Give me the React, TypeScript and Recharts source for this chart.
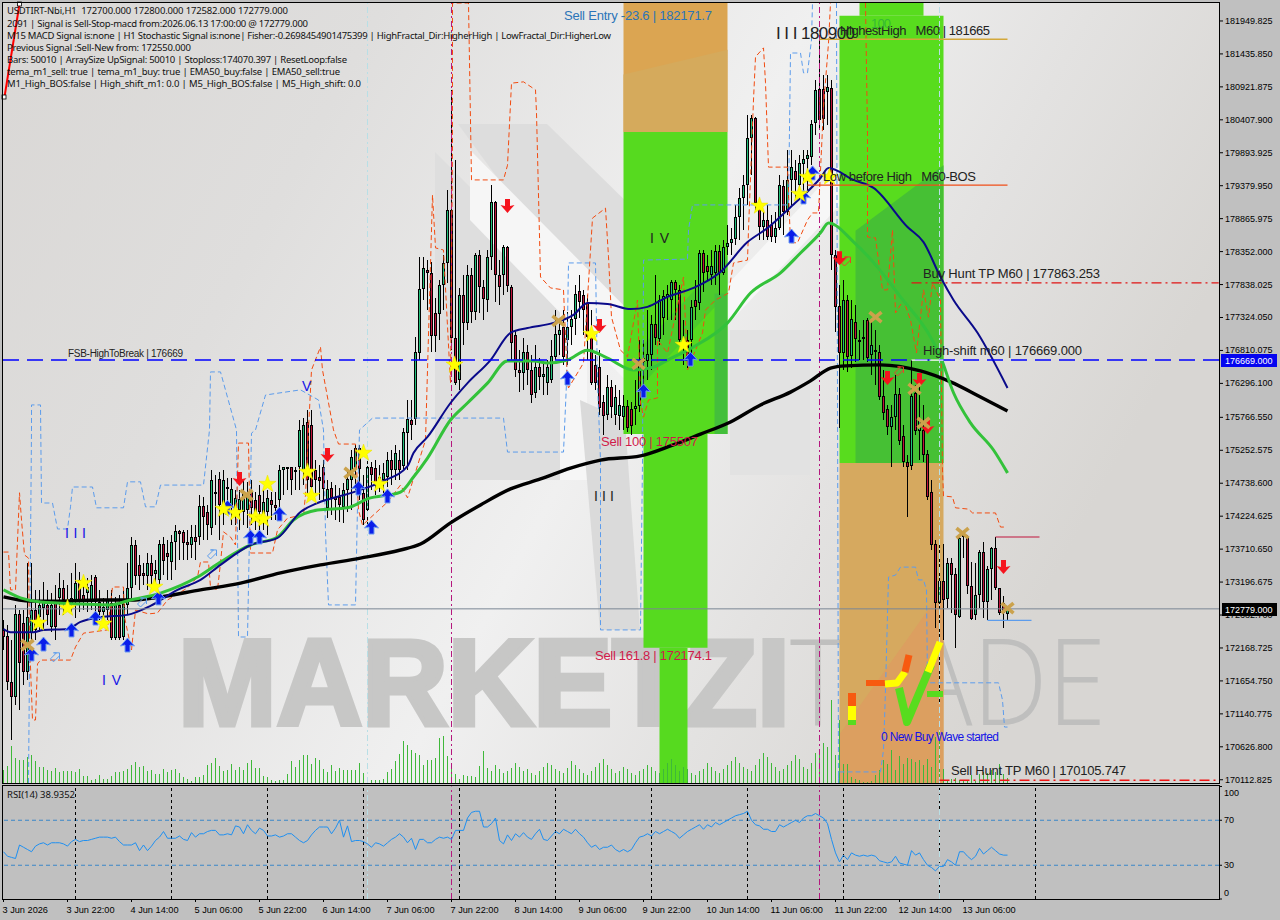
import React from "react";
import { ComposedChart, Bar, Line, XAxis, YAxis, ReferenceLine, ReferenceArea } from "recharts";

// ---------- data: [open, high, low, close] per H1 bar ----------
const ohlc: number[][] = [
[172450,172605,172137,172340],[172355,172530,171513,171640],[171640,172293,170733,171405],[171405,172840,171280,172700],[172700,172760,171200,171935],[172560,172760,171590,171795],[171795,173495,171670,172650],[172400,173495,172290,172760],[172760,173075,172290,172450],[172650,173075,172420,172840],
[172790,173200,172450,172885],[172840,173075,172530,172680],[172500,173025,172420,172840],[172870,173150,172290,172500],[172950,173340,172685,173105],[173105,173230,172685,172917],[172917,173150,172760,172870],[172840,173340,172730,172950],[172885,173495,172640,173180],[173230,173355,172730,172917],
[172995,173150,172760,172885],[173030,173260,172730,173120],[172917,173305,172760,173150],[173275,173305,172730,172885],[172885,173075,172605,172730],[172730,172950,172635,172810],[172760,173075,172605,172917],[172870,173075,172290,172325],[172325,172965,172290,172840],[172840,172995,172290,172325],
[172340,173075,172290,172855],[172840,173495,172685,173105],[173105,173900,172950,173775],[173775,173855,173150,173290],[173465,173620,173075,173290],[173340,173495,173150,173290],[173290,173650,173075,173495],[173495,173620,173075,173290],[173325,173540,173150,173385],[173230,173855,173150,173790],
[173790,173900,173305,173525],[173650,173855,173230,173590],[173510,173930,173230,173820],[173820,174085,173385,173995],[173995,174010,173540,173950],[173980,174010,173540,173805],[173820,174010,173540,173775],[173775,174085,173570,173900],[173900,174085,173540,173820],[173900,174555,173775,174385],
[174385,174525,173855,174210],[174290,174400,173855,174085],[174040,174945,173930,174790],[174600,174870,174085,174570],[174805,174915,173855,174400],[174400,174945,174085,174790],[174680,174820,174320,174650],[174370,174820,174085,174650],[174355,174635,174085,174510],[174320,174635,174010,174495],
[174290,174790,174085,174585],[174320,174760,174040,174585],[174600,174790,174085,174355],[174477,174600,174010,174210],[174555,174710,174010,174290],[174245,174635,174010,174445],[174290,174635,173930,174510],[174477,174600,174165,174400],[174400,174600,174165,174355],[174477,175025,174245,174945],
[174945,174990,174555,174990],[174990,174990,174635,174960],[174990,174990,174555,174790],[174945,174990,174635,174915],[174990,175725,174635,175570],[174945,175755,174710,175645],[175695,175880,174555,174790],[175645,175880,174555,174680],[174945,175100,174555,174790],[174835,175025,174477,174775],
[174990,175100,174477,174650],[174355,174790,174195,174650],[174665,174760,174245,174510],[174525,174710,174165,174477],[174525,174665,174135,174400],[174370,174745,174120,174635],[174635,174945,174290,174805],[174790,175257,174320,175150],[174960,175335,174635,175290],[175290,175335,174477,174960],
[174585,174870,174085,174165],[174320,175100,174010,174990],[174990,175070,174635,174870],[174975,175100,174555,174745],[174835,175025,174600,174790],[174790,175055,174555,174900],[174835,175225,174680,175100],[175100,175257,174710,174945],[174945,175335,174790,175210],[175100,175257,174790,174945],
[175010,175600,174945,175540],[175520,176037,174945,175740],[175725,176037,175413,175645],[175740,177020,175645,176785],[176770,178270,176660,177770],[177770,178270,177597,178095],[178065,178220,177440,178020],[178020,178190,176785,177035],[177395,177630,176785,177035],[177380,177910,176975,177830],
[177830,178300,177440,178175],[178175,179310,177860,179000],[179000,180870,176815,177005],[177005,179780,176270,176300],[176350,177785,176195,177675],[177675,177985,176895,177240],[177240,178145,177130,177985],[177985,178095,177240,177410],[177410,178330,177285,178300],[178300,178377,177395,177800],
[177800,177910,177285,177615],[177597,178377,177410,178270],[178270,179390,178065,179125],[179125,179140,177565,177985],[177985,178220,177520,177800],[177985,178455,177675,178425],[178425,178440,177725,177815],[177800,177830,176660,176925],[177050,177130,176395,176505],[176505,176815,176160,176460],
[176460,177005,176195,176785],[176785,176895,176270,176505],[176505,176740,175990,176115],[176145,176895,176070,176550],[176550,176695,176195,176395],[176395,176630,176115,176445],[176300,176660,176115,176550],[176350,176975,176300,176725],[176710,177440,176660,177065],[177050,177315,176740,177130],
[177175,177440,176585,176710],[176975,177410,176585,177175],[177175,177440,176895,177300],[177300,177830,177050,177690],[177740,177985,177315,177565],[177675,177755,177050,177440],[177550,177675,176660,177020],[177020,177440,176270,176300],[176585,176740,176195,176300],[176550,176815,175805,175910],
[176005,176115,175490,175785],[175805,176430,175725,176240],[176240,176350,175755,175930],[175805,176270,175645,176085],[175785,176195,175570,175960],[175770,176115,175570,175945],[175945,176037,175540,175600],[175900,176005,175490,175630],[175900,176350,175645,175945],[175945,176975,175850,176645],
[176630,176975,176270,176695],[176645,177440,176350,176755],[176740,177365,176505,177225],[177225,177985,176895,177005],[176990,177675,176895,177597],[177315,177755,177050,177660],[177645,177830,177285,177690],[177597,177910,177285,177880],[177880,177910,177285,177755],[177755,177830,176895,176975],
[176975,177285,176585,176895],[176975,177130,176535,176695],[176975,177597,176740,177490],[177597,177910,177285,177490],[177550,178377,177440,178330],[178330,178377,177720,178020],[178130,178300,177910,178035],[177985,178377,177830,178130],[178020,178455,177830,178360],[178360,178455,177675,178020],
[178020,178533,177985,178425],[178425,178765,178300,178485],[178485,178720,178300,178550],[178550,179080,178455,178890],[178890,179345,178533,179190],[179190,179545,178690,179390],[179390,180485,179080,180125],[180125,180485,179545,180435],[180435,180450,179000,179110],[179110,179157,178533,178735],
[178735,179000,178533,178845],[178845,179080,178533,178580],[178765,178925,178500,178580],[178580,178970,178485,178720],[178720,179545,178690,179390],[179375,179470,178610,178970],[178970,179937,178925,179470],[179470,179937,179080,179670],[179610,179780,179157,179470],[179390,179860,179315,179735],
[179720,179937,179235,179795],[179795,179937,179315,179860],[179830,180405,179705,180345],[180360,181030,180170,180870],[180890,181653,180250,180405],[180890,181105,180250,180420],[180840,181105,180325,180920],[180905,181030,178065,178300],[178300,178377,177100,177490],[177505,177830,175600,176770],
[176770,177910,176505,177597],[177597,177675,176475,176710],[176725,177597,176535,177300],[177255,177520,176630,176990],[176975,177130,176660,176940],[177020,177285,176660,176990],[177285,177315,176630,176695],[176740,177255,176425,176895],[176815,177130,176270,176785],[176785,176895,176037,176085],
[176100,176505,175725,175835],[175900,175960,175490,175615],[175615,175960,174990,175770],[175770,176430,175570,176130],[176130,176225,175335,175400],[175480,175645,174990,175070],[175070,175180,174210,174990],[175005,176660,174945,176100],[176145,176270,175490,175555],[175555,176270,175100,175725],
[175570,175960,175070,175180],[175195,175257,174477,174525],[174600,174790,173697,173775],[173790,173855,172480,172870],[172870,173790,171310,173215],[173215,173790,172293,172917],[172935,173570,172790,173495],[173495,173570,172715,173305],[173320,173415,172170,172685],[172650,173930,172635,173885],
[173930,173960,173570,173900],[173900,173930,173010,173135],[173135,173510,172605,172620],[172685,173495,172605,172995],[172995,173697,172790,173665],[173665,173820,172635,172885],[172885,173450,172605,173400],[173400,173745,172917,173730],[173730,173900,173075,173105],[173105,173105,172685,172715],
[172870,172980,172480,172715],[172700,172800,172582,172779],
];

const volumes = [13,17,37,25,23,23,26,28,22,16,16,13,12,15,11,12,12,12,11,14,7,7,3,4,8,4,4,7,11,11,12,14,18,21,16,17,12,13,9,9,14,11,13,14,10,6,4,2,6,6,8,18,20,25,17,12,13,19,13,16,13,20,23,15,15,7,6,3,2,3,3,9,22,16,23,28,28,19,25,23,14,11,18,12,15,13,13,13,13,20,10,3,3,3,3,4,11,14,22,29,42,38,33,30,28,18,23,23,25,45,47,27,14,9,4,8,7,7,6,17,32,
15,12,18,14,10,12,15,20,16,12,14,10,8,12,16,20,18,14,12,10,15,22,18,14,10,8,12,16,20,24,18,14,10,12,16,14,10,8,12,14,18,16,12,10,14,20,24,18,12,16,14,10,8,12,14,20,16,12,10,14,18,22,26,20,16,14,12,18,24,30,26,20,16,12,14,18,22,28,24,16,14,20,30,34,40,36,
83,28,63,19,19,6,4,3,1,1,2,8,13,23,19,33,13,27,19,25,24,21,23,18,24,16,46,53,14,2,4,5,3,2,3,8,2,9,11,10,13,11,19,9,5];

const rsi = [42,38,37,36,48,46,44,42,47,49,50,48,50,50,50,49,47,51,53,51,52,52,53,54,55,55,55,54,55,51,48,48,48,50,43,48,43,47,52,55,60,54,54,54,56,53,52,59,55,58,58,60,61,61,57,57,58,57,65,64,58,66,61,58,63,61,56,56,57,55,56,58,58,55,52,50,52,57,61,64,64,64,58,63,70,55,65,51,52,52,51,49,46,50,49,47,50,53,55,58,55,50,54,44,53,53,50,50,53,55,54,55,53,61,61,61,72,77,78,78,64,64,67,72,52,49,57,52,58,55,59,55,53,58,62,53,
52,56,60,58,62,60,58,62,58,55,50,46,48,44,46,46,48,44,42,44,42,44,50,55,56,58,56,60,58,60,62,60,58,54,57,60,62,64,66,62,66,64,68,66,68,70,72,74,75,76,78,70,66,65,62,62,60,60,66,64,66,68,70,68,72,74,74,76,74,72,
67,53,41,33,39,35,41,39,38,39,38,39,38,34,33,32,33,38,32,31,30,43,39,41,35,30,28,25,29,29,35,33,30,42,42,38,35,38,45,40,43,46,43,40,39,39];

const blackMA = [[0,172965],[6.75,172900],[14.25,172900],[24.25,172917],[31.75,172917],[39.25,172965],[49.25,173075],[59.25,173180],[69.25,173340],[79.25,173465],[89.25,173570],[99.25,173697],[104.25,173790],[111.75,174120],[119.25,174400],[126.75,174650],[134.25,174805],[141.75,174975],[149.25,175100],[159.25,175165],[166.75,175320],[174.25,175505],[181.75,175695],[189.25,175960],[196.75,176160],[201.75,176335],[206.75,176535],[210.5,176570],[219.25,176585],[229.25,176490],[236.75,176320],[244.25,176085],[251,175865]];
const greenMA = [[0,173075],[4.25,172950],[9.25,172885],[19.25,172855],[26.75,172840],[31.75,172917],[39.25,173025],[48.5,173275],[54.25,173510],[61.75,173775],[68.5,173900],[72.5,174165],[78.5,174320],[86,174355],[91,174495],[99.25,174600],[102.5,174835],[106,175130],[111.75,175725],[116,175990],[121,176300],[126,176645],[132.5,176645],[136,176615],[141,176660],[146,176815],[151,176690],[157.5,176505],[162.5,176550],[166,176660],[172.5,176865],[181,177240],[186.75,177705],[194.25,178020],[199.25,178330],[204.25,178645],[206.25,178800],[212.5,178505],[218.5,178110],[224.25,177645],[231.75,177020],[234.25,176710],[237.5,176150],[241.75,175680],[247.5,175257],[251,174900]];
const navyMA = [[0,172465],[1.75,172415],[7.5,172415],[10,172450],[16,172465],[19.25,172575],[24.25,172650],[31,172685],[36.75,172825],[43.5,173075],[49.25,173230],[54.25,173465],[61.75,173775],[68.5,173885],[74.25,174290],[78.5,174430],[86.75,174585],[95,174775],[101,175005],[102.5,175210],[106,175460],[111.75,175990],[116,176300],[121.75,176660],[126.75,177085],[131,177160],[137.5,177240],[142.5,177365],[146,177550],[151,177535],[156.75,177455],[161,177490],[166,177645],[172.5,177785],[179.25,178035],[186,178500],[191,178720],[196.75,179045],[204.25,179500],[206.25,179655],[212.5,179470],[217.5,179345],[226,178735],[230,178500],[234.25,177955],[237.5,177597],[243.5,177085],[251,176225]];

const orangeBand = [[0,173665],[1.25,173665],[1.75,173075],[3,173075],[4,174590],[4.5,174165],[5.25,173620],[6.25,173570],[6.5,172293],[7.25,171045],[8,171045],[8.5,171920],[9.25,171980],[16.75,171980],[18,172185],[20,172400],[26,172450],[27.25,173120],[30,173120],[30.25,172650],[32,172137],[33,172760],[36.25,172700],[38.5,172715],[41,172917],[46,173105],[48.5,173275],[49.25,173510],[51.25,173510],[51.75,173120],[53.5,173075],[54.25,173495],[55,173980],[56.75,173900],[58,173775],[58.75,175365],[61.25,175365],[61.75,173650],[67.25,173650],[68.5,174010],[71,174195],[75,174245],[75.5,174555],[76.25,175570],[77,176505],[79.25,176865],[79.75,176505],[82.5,175570],[83.75,175350],[88,175350],[88.75,174320],[89.75,174085],[96,174445],[99.25,174710],[101,174510],[105.5,175413],[107.25,179235],[108,178410],[110,178377],[111.75,176300],[112.25,179937],[112.25,182230],[116.25,182230],[117,179470],[125,179470],[126,179700],[127,180980],[130,181000],[133,180875],[133.25,180515],[134.25,177955],[136.75,177785],[140,177755],[141,176300],[141.25,176225],[145,176615],[147.25,178875],[150.5,179030],[151.25,178270],[152,177330],[154.25,176815],[156,176710],[158.5,177597],[159.25,175990],[160,175770],[161.25,176037],[163.5,176070],[163.5,176975],[166,176770],[170,177955],[171,176505],[174.75,177085],[175.5,177440],[178,177597],[181.25,177705],[182.5,178175],[186,178220],[186.25,178690],[187.5,180717],[188,181390],[190,181530],[190.5,180985],[191.25,179670],[196,179670],[196.75,178490],[198.5,178490],[201,178845],[202.25,178955],[203.75,178955],[205,180610],[206.25,181605],[206.75,182230]];
const orangeBandEnd = [[215.5,182230],[216,180200],[216,178580],[218,178565],[219.75,177755],[221,177755],[222.25,178690],[223,177395],[225,177597],[226.75,177285],[228.25,176770],[230,177755],[231.25,177330],[232.25,177860],[234.25,177597],[234.75,174945],[235,174540],[237.25,174525],[238,174355],[241.25,174335],[242.25,174275],[248,174275],[249.25,174055],[250.5,174055]];
const blueBand = [[6.25,170063],[7,175570],[7,175960],[9.25,175960],[9.5,174430],[12.25,174430],[13.5,174025],[16,174025],[16.75,174370],[17.25,174680],[22.25,174680],[23.25,174355],[30,174355],[31,174760],[34.25,174760],[35.5,174370],[38,174370],[39.25,174710],[50,174710],[51.5,175570],[51.75,176475],[54.25,176475],[58.25,175570],[58.75,172340],[61,172340],[62,175520],[63,175570],[65.5,176115],[74.25,176195],[78.75,176037],[80,175570],[80.5,173965],[81.25,172840],[88,172840],[88.5,174370],[89,175570],[92.25,175755],[125,175755],[126,175225],[140,175225],[140.75,176300],[141.25,178175],[148,178175],[148.5,176300],[149.25,175100],[149.25,172450],[159.25,172450],[159.75,175100],[160,178220],[171,178235],[171.25,178690],[172.25,179080],[196.25,179080],[196.75,181450],[199.25,181450],[200,181140],[201,181140],[202,181653],[202.25,182230]];
const blueBandEnd = [[208.25,182230],[208.75,170063],[208.75,170235],[219.25,170235],[220,170577],[220.5,171513],[221.25,173275],[223,173305],[224.25,173430],[228,173430],[228.75,173230],[230,173230],[230.75,173075],[231,171625],[248.75,171625],[249.75,171357],[250.25,170935],[251,170935]];
const redStroke = [[0.25,180765],[4,182215]];

const starMarks = [[8.75,172560],[16,172790],[20,173180],[25,172545],[37.75,173120],[55,174335],[58,174275],[63,174210],[65,174180],[66,174725],[76,174915],[77,174540],[90,175210],[94,174725],[112.75,176585],[147,177065],[170,176895],[189,179065],[199,179250],[201,179515],[206.5,179515]];
const buyMarks = [[7,172075],[10,172230],[17,172450],[23,172635],[31,172215],[38.75,172950],[56,174365],[61.75,173900],[64,173900],[69,174260],[88.75,174665],[92,174055],[96,174540],[141,176380],[160,176180],[171.75,176675],[197,178595],[200,179205],[202.25,179580]];
const sellMarks = [[59,174805],[81,175180],[126,179065],[149,177190],[209,178250],[221,176380],[229,176350],[231,175615],[250,173430]];
const crossMarks = [[6,172215],[60.75,174555],[86.75,174900],[138.75,177270],[158.75,176600],[218,177330],[227.75,176210],[230,175680],[239.75,173960],[251,172790]];
const hollowBlue = [[12.75,172015],[34.5,172870],[52,173620]];
const hollowRed = [[210.5,178190],[223.75,176475]];

const priceTicks = [181949.825,181435.85,180921.875,180407.9,179893.925,179379.95,178865.975,178352,177838.025,177324.05,176810.075,176296.1,175766.55,175252.575,174738.6,174224.625,173710.65,173196.675,172682.7,172168.725,171654.75,171140.775,170626.8,170112.825];
const timeLabels = ["3 Jun 2026","3 Jun 22:00","4 Jun 14:00","5 Jun 06:00","5 Jun 22:00","6 Jun 14:00","7 Jun 06:00","7 Jun 22:00","8 Jun 14:00","9 Jun 06:00","9 Jun 22:00","10 Jun 14:00","11 Jun 06:00","11 Jun 22:00","12 Jun 14:00","13 Jun 06:00"];
const rsiTicks = [100,70,30,0];
const daySeparators = [18,42,66,90,114,138,162,186,210,234,258];
const magentaLines = [112,204];
const cyanLines = [91,234];

const headerLines = [
  "USDTIRT-Nbi,H1  172700.000 172800.000 172582.000 172779.000",
  "2091 | Signal is Sell-Stop-macd from:2026.06.13 17:00:00 @ 172779.000",
  "M15 MACD Signal is:none | H1 Stochastic Signal is:none| Fisher:-0.2698454901475399 | HighFractal_Dir:HigherHigh | LowFractal_Dir:HigherLow",
  "Previous Signal :Sell-New from: 172550.000",
  "Bars: 50010 | ArraySize UpSignal: 50010 | Stoploss:174070.397 | ResetLoop:false",
  "tema_m1_sell: true | tema_m1_buy: true | EMA50_buy:false | EMA50_sell:true",
  "M1_High_BOS:false | High_shift_m1: 0.0 | M5_High_BOS:false | M5_High_shift: 0.0",
];

// ---------- presentation ----------
const UI = "'Liberation Sans', Arial, sans-serif";
const headerLayout = [[281,14],[301,27],[604,39],[184,51],[340,63],[333,75],[354,87]];
const notes: [string, number, number, number, string, number][] = [
  ["Sell Entry -23.6 | 182171.7",564,20,148,"#2b74b8",13],
  ["HighestHigh   M60 | 181665",840,35,150,"#222",13],
  ["100",871,28,20,"#35b935",13],
  ["I I I 180900",776,39,79,"#222",17],
  ["Low before High   M60-BOS",823,181,153,"#222",13],
  ["Buy Hunt TP M60 | 177863.253",923,278,177,"#222",13],
  ["High-shift m60 | 176669.000",923,355,159,"#222",13],
  ["FSB-HighToBreak | 176669",68,357,115,"#222",10],
  ["Sell Hunt TP M60 | 170105.747",951,775,175,"#222",13],
  ["0 New Buy Wave started",881,741,118,"#1414e6",12],
  ["Sell 100 | 175507",601,446,97,"#d01a4a",13],
  ["Sell 161.8 | 172174.1",595,660,117,"#d01a4a",13],
  ["I V",650,243,19,"#222",14],
  ["I I I",594,501,20,"#222",14],
  ["I I I",65,538,21,"#1414e6",14],
  ["I V",102,685,19,"#1414e6",14],
  ["V",302,391,11,"#1414e6",14],
];

const bars = ohlc.map(([o, h, l, c], i) => ({ x: i, o, h, l, c, range: [l, h], vol: volumes[i] ?? 0 }));
const rsiRows = rsi.map((v, i) => ({ x: i, rsi: v }));
const pts = (a: number[][]) => a.map(([x, p]) => ({ x, p }));

const Candle = (props: any) => {
  const { x, y, width, height, payload } = props;
  const { o, h, l, c } = payload;
  const k = height / Math.max(h - l, 1);
  const cx = Math.round(x + width / 2 - 0.5);
  const top = y + (h - Math.max(o, c)) * k;
  const bot = y + (h - Math.min(o, c)) * k;
  const up = c >= o;
  return (
    <g shapeRendering="crispEdges">
      <rect x={cx} y={y} width={1} height={Math.max(height, 1)} fill="#000" />
      <rect x={cx - 1} y={top} width={3} height={Math.max(bot - top, 1)} fill="#000" />
      {bot - top > 2 && <rect x={cx} y={top + 1} width={1} height={bot - top - 2} fill={up ? "#22c07a" : "#c0143c"} />}
    </g>
  );
};
const VolumeBar = (props: any) => {
  const { x, y, width, height } = props;
  return <rect x={Math.round(x + width / 2 - 0.5)} y={y} width={1} height={height} fill="#3fb83a" shapeRendering="crispEdges" />;
};
const star = (cx: number, cy: number, R: number, r: number) => {
  const out: string[] = [];
  for (let i = 0; i < 10; i++) {
    const a = -Math.PI / 2 + (i * Math.PI) / 5;
    const q = i % 2 ? r : R;
    out.push(`${cx + q * Math.cos(a)},${cy + q * Math.sin(a)}`);
  }
  return out.join(" ");
};
const StarDot = (p: any) => <polygon key={p.index} points={star(p.cx, p.cy, 9, 3.6)} fill="#ffff00" stroke="#e8e000" strokeWidth={0.5} />;
const BuyDot = (p: any) => (
  <g key={p.index}>
    <polygon points={`${p.cx},${p.cy - 7} ${p.cx + 7},${p.cy + 1} ${p.cx + 2.5},${p.cy} ${p.cx + 2.5},${p.cy + 7} ${p.cx - 2.5},${p.cy + 7} ${p.cx - 2.5},${p.cy} ${p.cx - 7},${p.cy + 1}`} fill="#0a1eea" stroke="#6f9cf0" strokeWidth={1} />
  </g>
);
const SellDot = (p: any) => (
  <polygon key={p.index} points={`${p.cx},${p.cy + 7} ${p.cx + 7},${p.cy - 1} ${p.cx + 2.5},${p.cy} ${p.cx + 2.5},${p.cy - 7} ${p.cx - 2.5},${p.cy - 7} ${p.cx - 2.5},${p.cy} ${p.cx - 7},${p.cy - 1}`} fill="#f5141e" />
);
const CrossDot = (p: any) => (
  <g key={p.index} stroke="#cba24c" strokeWidth={3.6}>
    <line x1={p.cx - 6} y1={p.cy - 5} x2={p.cx + 6} y2={p.cy + 5} />
    <line x1={p.cx - 6} y1={p.cy + 5} x2={p.cx + 6} y2={p.cy - 5} />
  </g>
);
const hollow = (col: string) => (p: any) => (
  <polygon key={p.index} points={`${p.cx - 4},${p.cy + 1} ${p.cx + 2},${p.cy - 5} ${p.cx - 1},${p.cy - 5} ${p.cx + 5},${p.cy - 5} ${p.cx + 5},${p.cy + 1} ${p.cx + 5},${p.cy - 2} ${p.cx - 1},${p.cy + 4}`} fill="none" stroke={col} strokeWidth={1} />
);

// zones: shape helpers cut the lighter logo facets out of a rectangle
const slantTop = (fill: string, drop: number) => (p: any) => (
  <polygon points={`${p.x},${p.y + drop * p.height} ${p.x + p.width},${p.y} ${p.x + p.width},${p.y + p.height} ${p.x},${p.y + p.height}`} fill={fill} />
);
const slantBand = (fill: string, drop: number, thick: number) => (p: any) => (
  <polygon points={`${p.x},${p.y + drop * p.height} ${p.x + p.width},${p.y} ${p.x + p.width},${p.y + thick * p.height} ${p.x},${p.y + (drop + thick) * p.height}`} fill={fill} />
);

const PriceTick = (p: any) => (
  <text x={p.x} y={p.y + 3} fontFamily={UI} fontSize={9} fill="#000">{Number(p.payload.value).toFixed(3)}</text>
);
const TimeTick = (p: any) => (
  <text x={p.x - 1} y={p.y + 9} fontFamily={UI} fontSize={9.2} fill="#000">{timeLabels[p.payload.value / 16]}</text>
);
const RsiTick = (p: any) => {
  const v = p.payload.value;
  const dy = v === 100 ? 9 : v === 0 ? -3 : 3;
  return <text x={p.x} y={p.y + dy} fontFamily={UI} fontSize={9} fill="#000">{v}</text>;
};

const PLOT_X: [number, number] = [-0.125, 303.875];
const PRICE_Y: [number, number] = [170062.2, 182230.2];

const Marks = (d: number[][], dot: any) => (
  <Line data={pts(d)} dataKey="p" stroke="none" dot={dot} activeDot={false} isAnimationActive={false} legendType="none" />
);
const Path = (d: number[][], color: string, w: number, dash?: string) => (
  <Line data={pts(d)} dataKey="p" stroke={color} strokeWidth={w} strokeDasharray={dash} dot={false} activeDot={false} isAnimationActive={false} legendType="none" />
);
const Smooth = (d: number[][], color: string, w: number) => (
  <Line data={pts(d)} type="monotoneX" dataKey="p" stroke={color} strokeWidth={w} strokeLinejoin="round" dot={false} activeDot={false} isAnimationActive={false} legendType="none" />
);

export default function App() {
  return (
    <div style={{ position: "absolute", left: 0, top: 0, width: 1280, height: 920, background: "#c0c0c0", overflow: "hidden" }}>
      {/* paper + watermark */}
      <svg width={1280} height={920} style={{ position: "absolute", left: 0, top: 0 }}>
        <defs>
          <linearGradient id="paper" x1="0" y1="0" x2="1" y2="0.35">
            <stop offset="0" stopColor="#d9d7d5" />
            <stop offset="0.28" stopColor="#dfdedd" />
            <stop offset="0.6" stopColor="#f0f0f0" />
            <stop offset="0.8" stopColor="#e3e2e1" />
            <stop offset="1" stopColor="#d8d6d3" />
          </linearGradient>
        </defs>
        <rect x={3} y={3} width={1216} height={780} fill="url(#paper)" />
        <polygon points="435,152 560,277 560,480 435,480" fill="#dedede" />
        <polygon points="458,124 547,124 727,300 727,345 620,345" fill="#dddddd" />
        <polygon points="470,150 640,322 640,395 470,220" fill="#f6f6f6" />
        <polygon points="560,277 587,300 587,480 560,480" fill="#f6f6f6" />
        <polygon points="580,400 625,420 640,630 600,630" fill="#dadada" />
        <polygon points="727,285 840,165 840,205 727,325" fill="#f7f7f7" />
        <polygon points="730,330 810,330 810,475 730,475" fill="#e2e2e2" />
        <text x={178} y={725} fontFamily={UI} fontWeight={700} fontSize={122} fill="#c7c7c6" stroke="#c7c7c6" strokeWidth={5} textLength={612} lengthAdjust="spacingAndGlyphs">MARKETZI</text>
        <text x={790} y={725} fontFamily="'Open Sans', sans-serif" fontWeight={300} fontSize={120} fill="#bfbfbe" textLength={316} lengthAdjust="spacingAndGlyphs">TRADE</text>
      </svg>

      <div style={{ position: "absolute", left: 0, top: 0 }}>
        <ComposedChart width={1280} height={785} data={bars} margin={{ top: 3, right: 0, bottom: 2, left: 3 }}>
          <XAxis dataKey="x" type="number" domain={PLOT_X} hide allowDataOverflow />
          <XAxis xAxisId="vol" dataKey="x" type="number" domain={PLOT_X} hide allowDataOverflow />
          <YAxis orientation="right" width={61} type="number" domain={PRICE_Y} allowDataOverflow ticks={priceTicks} interval={0} axisLine={false} tickSize={4} tickLine={{ stroke: "#000" }} tick={<PriceTick />} />
          <YAxis yAxisId="vol" hide type="number" domain={[0, 780]} allowDataOverflow />

          <ReferenceArea x1={155} x2={181} y1={180218} y2={182230} fill="#dba552" fillOpacity={1} stroke="none" />
          <ReferenceArea x1={155} x2={181} y1={180218} y2={181500} shape={slantTop("#d5aa5c", 0.3)} />
          <ReferenceArea x1={155} x2={181} y1={175507} y2={180218} fill="#56da1f" fillOpacity={1} stroke="none" />
          <ReferenceArea x1={160} x2={181} y1={176300} y2={178300} shape={slantBand("#4ccb2c", 0.7, 0.3)} />
          <ReferenceArea x1={177.75} x2={181} y1={175507} y2={177700} fill="#44bf3b" fillOpacity={1} stroke="none" />
          <ReferenceArea x1={160} x2={176} y1={172174} y2={175507} fill="#56da1f" fillOpacity={1} stroke="none" />
          <ReferenceArea x1={164} x2={171} y1={170062.2} y2={172174} fill="#56da1f" fillOpacity={1} stroke="none" />
          <ReferenceArea x1={214} x2={230} y1={182030} y2={182230} fill="#58dc1e" fillOpacity={1} stroke="none" />
          <ReferenceArea x1={209} x2={235} y1={175055} y2={182030} fill="#58dc1e" fillOpacity={1} stroke="none" />
          <ReferenceArea x1={213} x2={235} y1={175055} y2={179700} shape={slantTop("#46c034", 0.22)} />
          <ReferenceArea x1={209} x2={235} y1={170062.2} y2={175055} fill="#d6a95f" fillOpacity={1} stroke="none" />
          <ReferenceArea x1={209} x2={235} y1={170062.2} y2={173100} shape={slantTop("#dc9f60", 0.75)} />

          <Bar xAxisId="vol" yAxisId="vol" dataKey="vol" barSize={1} shape={<VolumeBar />} isAnimationActive={false} legendType="none" />

          {magentaLines.map((x) => <ReferenceLine key={x} x={x} stroke="#b5177e" strokeDasharray="6 3 2 3" />)}
          {cyanLines.map((x) => <ReferenceLine key={x} x={x} stroke="#b8dfe6" strokeDasharray="6 3 2 3" />)}

          {Path(blueBand, "#5c9cec", 1, "5 3")}
          {Path(blueBandEnd, "#5c9cec", 1, "5 3")}
          {Path(orangeBand, "#f24b10", 1, "5 3")}
          {Path(orangeBandEnd, "#f24b10", 1, "5 3")}

          <Bar dataKey="range" barSize={3} shape={<Candle />} isAnimationActive={false} legendType="none" />

          {Smooth(blackMA, "#000", 3.4)}
          {Smooth(greenMA, "#33c23a", 3)}
          {Smooth(navyMA, "#0a0a8a", 2)}
          {Path(redStroke, "#f00", 2)}

          <ReferenceLine y={176660} stroke="#0000ff" strokeWidth={1.5} strokeDasharray="16 8" />
          <ReferenceLine segment={[{ x: 227, y: 176660 }, { x: 235, y: 176660 }]} stroke="#ffffff" strokeWidth={1.2} strokeDasharray="16 2" />
          <ReferenceLine y={172779} stroke="#7b8794" />
          <ReferenceLine segment={[{ x: 204, y: 181665 }, { x: 251, y: 181665 }]} stroke="#d3a83a" strokeWidth={1.4} />
          <ReferenceLine segment={[{ x: 201, y: 179390 }, { x: 251, y: 179390 }]} stroke="#f04e18" strokeWidth={1.2} />
          <ReferenceLine segment={[{ x: 227, y: 177863 }, { x: 303.8, y: 177863 }]} stroke="#e01414" strokeWidth={1.2} strokeDasharray="10 4 2 4" />
          <ReferenceLine segment={[{ x: 234, y: 170105.7 }, { x: 303.8, y: 170105.7 }]} stroke="#f01414" strokeWidth={1.4} strokeDasharray="10 4 2 4" />
          <ReferenceLine segment={[{ x: 248, y: 173900 }, { x: 259, y: 173900 }]} stroke="#c0143c" strokeWidth={1.2} />
          <ReferenceLine segment={[{ x: 246, y: 172600 }, { x: 257, y: 172600 }]} stroke="#5c9cec" strokeWidth={1.2} />

          {Marks(hollowBlue, hollow("#5c9cec"))}
          {Marks(hollowRed, hollow("#e8412c"))}
          {Marks(buyMarks, BuyDot)}
          {Marks(sellMarks, SellDot)}
          {Marks(starMarks, StarDot)}
          {Marks(crossMarks, CrossDot)}
        </ComposedChart>
      </div>

      <div style={{ position: "absolute", left: 0, top: 785 }}>
        <ComposedChart width={1280} height={135} data={rsiRows} margin={{ top: 1.5, right: 0, bottom: 0, left: 3 }}>
          <XAxis dataKey="x" type="number" domain={PLOT_X} allowDataOverflow height={21} ticks={timeLabels.map((_, i) => i * 16)} interval={0} axisLine={false} tickSize={3} tickLine={{ stroke: "#000" }} tick={<TimeTick />} />
          <YAxis orientation="right" width={61} type="number" domain={[0, 100]} ticks={rsiTicks} interval={0} axisLine={false} tickSize={3} tickLine={{ stroke: "#000" }} tick={<RsiTick />} />
          <ReferenceLine y={70} stroke="#3a86c8" strokeDasharray="4 3" />
          <ReferenceLine y={30} stroke="#3a86c8" strokeDasharray="4 3" />
          {daySeparators.map((x) => <ReferenceLine key={x} x={x} stroke="#000" strokeDasharray="3 3" />)}
          {magentaLines.map((x) => <ReferenceLine key={x} x={x} stroke="#b5177e" strokeDasharray="6 3 2 3" />)}
          {cyanLines.map((x) => <ReferenceLine key={x} x={x} stroke="#b8dfe6" strokeDasharray="6 3 2 3" />)}
          <Line dataKey="rsi" stroke="#1e8ff0" strokeWidth={1} dot={false} activeDot={false} isAnimationActive={false} legendType="none" />
        </ComposedChart>
      </div>

      {/* text, frames and the wave badge */}
      <svg width={1280} height={920} style={{ position: "absolute", left: 0, top: 0, pointerEvents: "none" }}>
        <g fill="none" strokeLinejoin="round" strokeLinecap="butt">
          <polyline points="852,724 852,706" stroke="#ffff00" strokeWidth={8} />
          <polyline points="852,706 852,693" stroke="#f75a10" strokeWidth={8} />
          <polyline points="852,725 852,720" stroke="#58dc1e" strokeWidth={8} />
          <polyline points="866,683 885,683" stroke="#f75a10" strokeWidth={6} />
          <polyline points="885,684 897,683 905,672" stroke="#ffff00" strokeWidth={7} />
          <polyline points="905,672 909,655" stroke="#f75a10" strokeWidth={7} />
          <polyline points="899,688 907,722 931,665" stroke="#58dc1e" strokeWidth={8} />
          <polyline points="928,672 940,642" stroke="#ffff00" strokeWidth={7} />
          <polyline points="927,694 943,694" stroke="#58dc1e" strokeWidth={6} />
        </g>
        <rect x={2} y={95} width={4} height={4} fill="#fff" stroke="#000" strokeWidth={0.8} />
        <rect x={17.5} y={2} width={4} height={4} fill="#fff" stroke="#000" strokeWidth={0.8} />
        {notes.map(([t, x, y, w, col, size], i) => (
          <text key={i} x={x} y={y} fontFamily={UI} fontSize={size} fill={col} textLength={w} lengthAdjust="spacing" xmlSpace="preserve">{t}</text>
        ))}
        {headerLines.map((t, i) => (
          <text key={i} x={7} y={headerLayout[i][1]} fontFamily="'Noto Sans', sans-serif" fontSize={9.5} fill="#111" textLength={headerLayout[i][0]} lengthAdjust="spacing" xmlSpace="preserve">{t}</text>
        ))}
        <text x={7} y={798} fontFamily="'Noto Sans', sans-serif" fontSize={9.5} fill="#111" textLength={68} lengthAdjust="spacing">RSI(14) 38.9352</text>

        <rect x={2.5} y={2.5} width={1217} height={781} fill="none" stroke="#000" />
        <rect x={2.5} y={785.5} width={1217} height={114} fill="none" stroke="#000" />

        <rect x={1221} y={354} width={56} height={13} fill="#0505f0" />
        <text x={1225} y={364} fontFamily={UI} fontSize={9} fill="#fff">176669.000</text>
        <rect x={1222} y={603} width={55} height={13} fill="#000" />
        <text x={1225} y={613} fontFamily={UI} fontSize={9} fill="#fff">172779.000</text>
      </svg>
    </div>
  );
}
